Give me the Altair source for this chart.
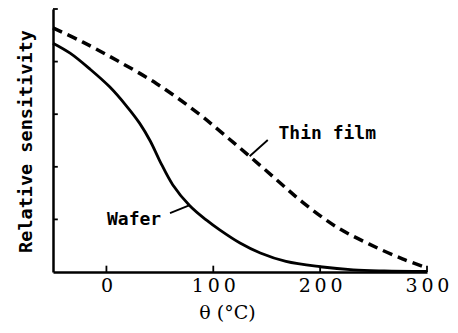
import altair as alt
import pandas as pd

# Wafer curve (solid)
wafer_t = [-50, -34, -15, 3, 19, 31, 41, 50, 62, 78, 94, 106, 125, 144, 168, 200, 231, 260, 300]
wafer_v = [4.35, 4.16, 3.85, 3.52, 3.15, 2.83, 2.49, 2.11, 1.66, 1.26, 0.98, 0.80, 0.55, 0.36, 0.20, 0.10, 0.04, 0.02, 0.01]

# Thin film curve (dashed)
film_t = [-50, -22, 10, 47, 85, 109, 134, 160, 184, 215, 246, 277, 300]
film_v = [4.64, 4.37, 4.02, 3.58, 3.03, 2.63, 2.20, 1.74, 1.32, 0.86, 0.53, 0.25, 0.08]

x_ticks = [0, 100, 200, 300]
y_ticks = [1, 2, 3, 4, 5]

wafer = pd.DataFrame({"t": wafer_t, "v": wafer_v})
film = pd.DataFrame({"t": film_t, "v": film_v})

xs = alt.Scale(domain=[-50, 300], nice=False, zero=False)
ys = alt.Scale(domain=[0, 5], nice=False, zero=False)

xaxis = alt.Axis(values=x_ticks, ticks=False, grid=False, domainColor="black", domainWidth=2.5,
                 labelFont="DejaVu Serif", labelFontSize=19, labelColor="black", labelPadding=4,
                 labelExpr="join(split(datum.label, ''), '\u2009')",
                 labelFlush=False, labelOverlap=False,
                 title="θ   (°C)", titleFont="DejaVu Serif", titleFontSize=19, titleFontWeight="normal",
                 titleColor="black", titleX=174, titleY=40, titleBaseline="middle", titleAlign="center")
yaxis = alt.Axis(labels=False, ticks=False, grid=False, domainColor="black", domainWidth=2.5,
                 title="Relative sensitivity", titleFont="DejaVu Sans Mono", titleFontSize=18.5,
                 titleFontWeight="bold", titleColor="black", titleAngle=270, titleX=-28, titleY=132,
                 titleBaseline="middle", titleAlign="center")

base_solid = alt.Chart(wafer).mark_line(color="black", strokeWidth=2.8, interpolate="catmull-rom").encode(
    x=alt.X("t:Q", scale=xs, axis=xaxis),
    y=alt.Y("v:Q", scale=ys, axis=yaxis),
)
dashed = alt.Chart(film).mark_line(color="black", strokeWidth=3.5, strokeDash=[10, 6],
                                   interpolate="catmull-rom").encode(
    x=alt.X("t:Q", scale=xs),
    y=alt.Y("v:Q", scale=ys),
)

# inward tick marks
xt = pd.DataFrame({"t": x_ticks, "y0": [0] * 4, "y1": [0.12] * 4})
xtick = alt.Chart(xt).mark_rule(color="black", strokeWidth=1.8).encode(
    x=alt.X("t:Q", scale=xs), y=alt.Y("y0:Q", scale=ys), y2="y1:Q")
yt = pd.DataFrame({"v": y_ticks, "x0": [-50] * 5, "x1": [-45.5] * 5})
ytick = alt.Chart(yt).mark_rule(color="black", strokeWidth=1.8).encode(
    y=alt.Y("v:Q", scale=ys), x=alt.X("x0:Q", scale=xs), x2="x1:Q")

labels = pd.DataFrame({"t": [161, 0.5], "v": [2.62, 0.99], "txt": ["Thin film", "Wafer"]})
txt = alt.Chart(labels).mark_text(align="left", baseline="middle", font="DejaVu Sans Mono",
                                  fontSize=18, fontWeight="bold", color="black").encode(
    x=alt.X("t:Q", scale=xs), y=alt.Y("v:Q", scale=ys), text="txt:N")

leaders = pd.DataFrame({"t0": [134, 59.5], "v0": [2.20, 1.12], "t1": [151, 78], "v1": [2.51, 1.27]})
lead = alt.Chart(leaders).mark_rule(color="black", strokeWidth=1.8).encode(
    x=alt.X("t0:Q", scale=xs), y=alt.Y("v0:Q", scale=ys), x2="t1:Q", y2="v1:Q")

chart = alt.layer(base_solid, dashed, xtick, ytick, lead, txt).properties(
    width=374, height=263,
    background="white",
    autosize=alt.AutoSizeParams(type="none"),
    padding={"left": 45, "top": 1, "right": 23, "bottom": 52},
).configure_view(stroke=None, strokeWidth=0)

chart.save("out.html", embed_options={"renderer": "svg", "actions": False})
